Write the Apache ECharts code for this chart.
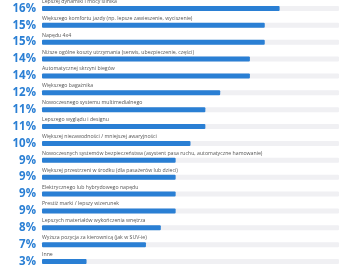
<!DOCTYPE html>
<html>
<head>
<meta charset="utf-8">
<script src="https://cdn.jsdelivr.net/npm/echarts@6/dist/echarts.min.js"></script>
<style>
  html, body { margin: 0; padding: 0; background: #fff; }
  #chart { width: 360px; height: 270px; }
</style>
</head>
<body>
<div id="chart"></div>
<script>
  var categories = [
    'Lepszej dynamiki i mocy silnika',
    'Większego komfortu jazdy (np. lepsze zawieszenie, wyciszenie)',
    'Napędu 4x4',
    'Niższe ogólne koszty utrzymania (serwis, ubezpieczenie, części)',
    'Automatycznej skrzyni biegów',
    'Większego bagażnika',
    'Nowoczesnego systemu multimedialnego',
    'Lepszego wyglądu i designu',
    'Większej niezawodności / mniejszej awaryjności',
    'Nowoczesnych systemów bezpieczeństwa (asystent pasa ruchu, automatyczne hamowanie)',
    'Większej przestrzeni w środku (dla pasażerów lub dzieci)',
    'Elektrycznego lub hybrydowego napędu',
    'Prestiż marki / lepszy wizerunek',
    'Lepszych materiałów wykończenia wnętrza',
    'Wyższa pozycja za kierownicą (jak w SUV-ie)',
    'Inne'
  ];
  var values = [16, 15, 15, 14, 14, 12, 11, 11, 10, 9, 9, 9, 9, 8, 7, 3];
  var maxValue = 20;

  var chart = echarts.init(document.getElementById('chart'));
  chart.setOption({
    animation: false,
    grid: { left: 42, right: 21, top: -2, height: 278 },
    xAxis: {
      type: 'value',
      min: 0,
      max: maxValue,
      show: false
    },
    yAxis: {
      type: 'category',
      inverse: true,
      data: categories,
      axisLine: { show: false },
      axisTick: { show: false },
      axisLabel: {
        margin: 6,
        fontFamily: 'Open Sans',
        fontSize: 11.5,
        fontWeight: 'bold',
        color: '#2a7fd4',
        formatter: function (v, i) {
          return values[i] + '%';
        }
      }
    },
    series: [{
      type: 'bar',
      data: values,
      barWidth: 5,
      itemStyle: { color: '#2a7fd4', borderRadius: 1 },
      showBackground: true,
      backgroundStyle: { color: '#f0f0f3', borderRadius: 1 },
      label: {
        show: true,
        position: [0, -2],
        verticalAlign: 'bottom',
        align: 'left',
        fontFamily: 'Open Sans',
        fontSize: 5.2,
        color: '#555',
        formatter: function (p) {
          return categories[p.dataIndex];
        }
      }
    }]
  });
</script>
</body>
</html>
